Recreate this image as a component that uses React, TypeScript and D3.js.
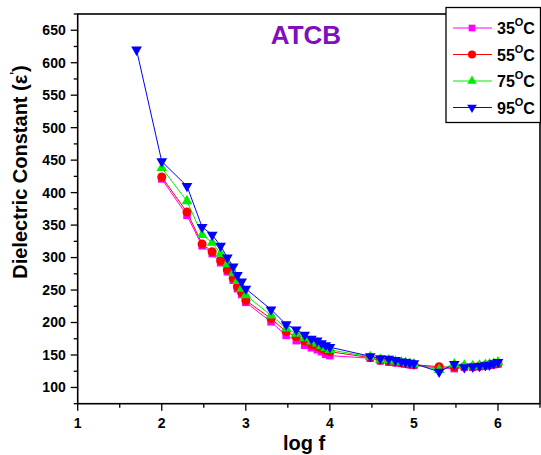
import React, { useRef, useEffect } from "react";
import * as d3 from "d3";

// log f values (common to all temperatures)
const logF = [2, 2.3, 2.48, 2.6, 2.7, 2.78, 2.85, 2.9, 2.95, 3, 3.3, 3.48, 3.6, 3.7, 3.78, 3.85, 3.9, 3.95, 4,
  4.48, 4.6, 4.7, 4.78, 4.85, 4.9, 4.95, 5, 5.3, 5.48, 5.6, 5.7, 5.78, 5.85, 5.9, 5.95, 6];
const logF95 = [1.7, ...logF];

const eps35 = [421, 365, 318, 306, 292, 278, 265, 252, 243, 231, 201, 180, 172, 165, 161, 158, 155, 151, 149,
  145, 141, 139, 138, 137, 136, 135, 134, 130, 129, 131, 131, 132, 133, 134, 135, 136];
const eps55 = [424, 370, 321, 309, 295, 281, 268, 255, 246, 234, 206, 186, 178, 171, 166, 163, 160, 157, 155,
  146, 142, 140, 139, 138, 137, 136, 135, 132, 131, 132, 132, 133, 134, 135, 136, 137];
const eps75 = [438, 387, 335, 323, 306, 290, 276, 264, 252, 242, 211, 191, 183, 176, 171, 168, 164, 161, 158,
  147, 143, 142, 140, 139, 138, 137, 136, 127, 136, 134, 133, 134, 135, 136, 137, 139];
const eps95 = [620, 448, 410, 347, 335, 318, 300, 286, 273, 263, 252, 220, 197, 189, 181, 175, 172, 168, 165, 162,
  148, 145, 144, 142, 140, 139, 138, 137, 124, 136, 131, 132, 133, 134, 135, 137, 139];

const seriesNames = ["35", "55", "75", "95"];
const xTicks = [1, 2, 3, 4, 5, 6];
const yTicks = [100, 150, 200, 250, 300, 350, 400, 450, 500, 550, 600, 650];

const FONT = "Arial, 'Liberation Sans', sans-serif";

const App = () => {
  const svgRef = useRef(null);

  useEffect(() => {
    const width = 541;
    const height = 455;
    const margin = { top: 14, right: 1, bottom: 51.3, left: 77.7 };
    const iw = width - margin.left - margin.right;
    const ih = height - margin.top - margin.bottom;

    const series = [
      { name: seriesNames[0], xs: logF, ys: eps35, color: "#ff00ff", shape: d3.symbolSquare, size: 56, rot: 0 },
      { name: seriesNames[1], xs: logF, ys: eps55, color: "#ff0000", shape: d3.symbolCircle, size: 64, rot: 0 },
      { name: seriesNames[2], xs: logF, ys: eps75, color: "#00ee00", shape: d3.symbolTriangle, size: 50, rot: 0 },
      { name: seriesNames[3], xs: logF95, ys: eps95, color: "#0000ff", shape: d3.symbolTriangle, size: 50, rot: 180 },
    ];

    const x = d3.scaleLinear().domain([1, 6.5]).range([0, iw]);
    const y = d3.scaleLinear().domain([75, 675]).range([ih, 0]);

    const svg = d3.select(svgRef.current);
    svg.selectAll("*").remove();
    svg.attr("width", width).attr("height", height);

    const g = svg.append("g").attr("transform", `translate(${margin.left},${margin.top})`);

    // frame
    g.append("rect").attr("x", 0).attr("y", 0).attr("width", iw).attr("height", ih)
      .attr("fill", "none").attr("stroke", "#000").attr("stroke-width", 1.6);

    // y ticks
    const yMinor = d3.range(75, 676, 25).filter(v => !yTicks.includes(v));
    g.selectAll(".ymin").data(yMinor).enter().append("line")
      .attr("x1", -4).attr("x2", 0).attr("y1", d => y(d)).attr("y2", d => y(d))
      .attr("stroke", "#000").attr("stroke-width", 1.3);
    g.selectAll(".ymaj").data(yTicks).enter().append("line")
      .attr("x1", -7).attr("x2", 0).attr("y1", d => y(d)).attr("y2", d => y(d))
      .attr("stroke", "#000").attr("stroke-width", 1.3);
    g.selectAll(".ylab").data(yTicks).enter().append("text")
      .attr("x", -12).attr("y", d => y(d)).attr("dy", "0.35em")
      .attr("text-anchor", "end").attr("font-family", FONT).attr("font-weight", "bold")
      .attr("font-size", 14).text(d => d);

    // x ticks
    const xMinor = [1.5, 2.5, 3.5, 4.5, 5.5, 6.5];
    g.selectAll(".xmin").data(xMinor).enter().append("line")
      .attr("x1", d => x(d)).attr("x2", d => x(d)).attr("y1", ih).attr("y2", ih + 4)
      .attr("stroke", "#000").attr("stroke-width", 1.3);
    g.selectAll(".xmaj").data(xTicks).enter().append("line")
      .attr("x1", d => x(d)).attr("x2", d => x(d)).attr("y1", ih).attr("y2", ih + 7)
      .attr("stroke", "#000").attr("stroke-width", 1.3);
    g.selectAll(".xlab").data(xTicks).enter().append("text")
      .attr("x", d => x(d)).attr("y", ih + 24)
      .attr("text-anchor", "middle").attr("font-family", FONT).attr("font-weight", "bold")
      .attr("font-size", 14).text(d => d);

    // series lines and markers
    const line = d3.line().x(d => x(d[0])).y(d => y(d[1]));
    series.forEach(s => {
      const pts = s.xs.map((v, i) => [v, s.ys[i]]);
      g.append("path").datum(pts).attr("d", line)
        .attr("fill", "none").attr("stroke", s.color).attr("stroke-width", 1);
    });
    series.forEach(s => {
      const pts = s.xs.map((v, i) => [v, s.ys[i]]);
      const sym = d3.symbol().type(s.shape).size(s.size);
      g.selectAll(null).data(pts).enter().append("path")
        .attr("d", sym)
        .attr("transform", d => `translate(${x(d[0])},${y(d[1])}) rotate(${s.rot})`)
        .attr("fill", s.color);
    });

    // title
    svg.append("text").attr("x", 306).attr("y", 44).attr("text-anchor", "middle")
      .attr("font-family", FONT).attr("font-weight", "bold").attr("font-size", 26)
      .attr("fill", "#7f0fbf").text("ATCB");

    // axis labels
    svg.append("text").attr("x", 304).attr("y", 450).attr("text-anchor", "middle")
      .attr("font-family", FONT).attr("font-weight", "bold").attr("font-size", 20).text("log f");

    const yl = svg.append("text").attr("transform", "translate(27,172) rotate(-90)")
      .attr("text-anchor", "middle").attr("font-family", FONT).attr("font-weight", "bold")
      .attr("font-size", 20);
    yl.append("tspan").text("Dielectric Constant (ε");
    yl.append("tspan").attr("font-size", 12).attr("dy", -8).text("'");
    yl.append("tspan").attr("dy", 8).text(")");

    // legend
    const lg = svg.append("g");
    lg.append("rect").attr("x", 446).attr("y", 7.5).attr("width", 94.5).attr("height", 115)
      .attr("fill", "#fff").attr("stroke", "#000").attr("stroke-width", 1.3);
    series.forEach((s, i) => {
      const cy = 28 + i * 26.5;
      lg.append("line").attr("x1", 453).attr("x2", 492).attr("y1", cy).attr("y2", cy)
        .attr("stroke", s.color).attr("stroke-width", 1);
      lg.append("path").attr("d", d3.symbol().type(s.shape).size(s.size * 0.8))
        .attr("transform", `translate(472,${cy}) rotate(${s.rot})`).attr("fill", s.color);
      const t = lg.append("text").attr("x", 497).attr("y", cy + 6)
        .attr("font-family", FONT).attr("font-weight", "bold").attr("font-size", 16);
      t.append("tspan").text(s.name);
      t.append("tspan").attr("font-size", 11).attr("dy", -8).text("O");
      t.append("tspan").attr("dy", 8).text("C");
    });
  }, []);

  return (
    <svg ref={svgRef} style={{ position: "absolute", left: 0, top: 0, background: "#fff" }}></svg>
  );
};

export default App;
